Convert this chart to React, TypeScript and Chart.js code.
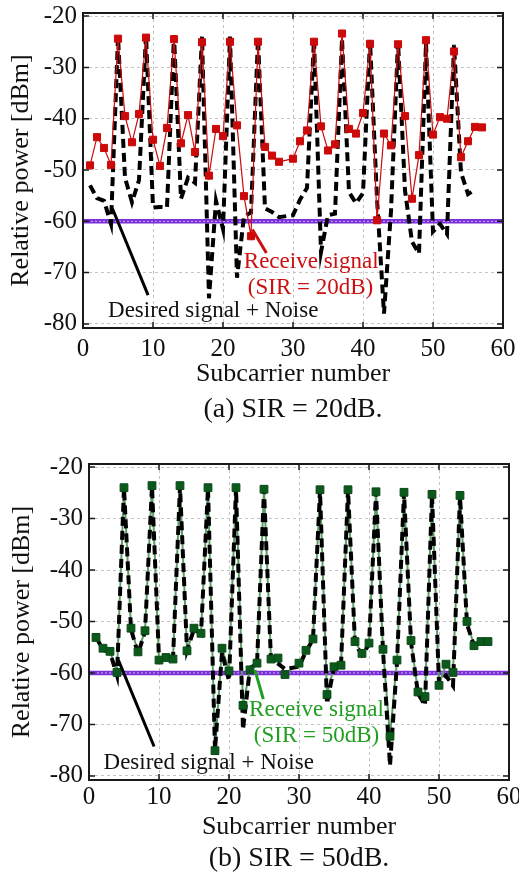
import React, { useEffect, useRef } from "react";
import { Chart, registerables } from "chart.js";

Chart.register(...registerables);

// ---------------- data ----------------
const subcarriers = [
  1, 2, 3, 4, 5, 6, 7, 8, 9, 10, 11, 12, 13, 14, 15, 16, 17, 18, 19, 20, 21, 22, 23, 24, 25, 26, 27, 28,
  30, 31, 32, 33, 34, 35, 36, 37, 38, 39, 40, 41, 42, 43, 44, 45, 46, 47, 48, 49, 50, 51, 52, 53, 54, 55, 56, 57,
];

// Desired signal + Noise (black dashed), subcarriers 1..56 (no 29)
const desiredSignalNoise = [
  -53.0, -55.5, -56.0, -60.5, -24.0, -51.5, -56.3, -52.0, -23.7, -57.3, -57.2, -57.3, -23.7, -55.6,
  -51.5, -52.5, -24.0, -75.0, -56.0, -61.5, -24.0, -71.0, -59.0, -58.3, -24.4, -57.5, -58.2, -59.2,
  -58.8, -55.8, -53.5, -24.5, -66.0, -58.8, -58.5, -24.4, -54.3, -56.5, -54.5, -24.8, -55.6, -78.0,
  -58.0, -24.9, -54.0, -64.0, -66.3, -25.3, -62.0, -60.5, -62.5, -25.6, -50.5, -54.7, -53.8,
];

// Receive signal, SIR = 20 dB
const receiveSIR20 = [
  -49.1, -43.6, -45.7, -49.0, -24.4, -39.5, -44.6, -39.1, -24.2, -44.1, -49.2, -41.8, -24.5, -44.8,
  -39.3, -46.5, -25.1, -51.1, -42.0, -43.4, -25.0, -41.3, -55.1, -62.9, -25.0, -45.5, -47.2, -48.4,
  -47.8, -44.4, -42.3, -25.0, -41.5, -46.2, -45.0, -23.4, -42.0, -42.9, -38.9, -25.4, -59.8, -42.9,
  -45.2, -25.5, -39.5, -55.6, -47.1, -24.7, -43.1, -39.7, -40.0, -26.9, -47.5, -44.4, -41.6, -41.7,
];

// Receive signal, SIR = 50 dB
const receiveSIR50 = [
  -53.1, -55.2, -55.8, -59.9, -24.0, -51.3, -55.9, -51.8, -23.6, -57.5, -57.0, -57.3, -23.6, -55.7,
  -51.3, -52.3, -24.0, -75.1, -55.2, -59.6, -24.0, -66.3, -59.4, -58.1, -24.3, -57.3, -57.1, -60.3,
  -58.1, -55.6, -53.4, -24.4, -64.2, -58.8, -58.5, -24.4, -53.9, -56.2, -54.2, -24.8, -55.4, -72.3,
  -57.5, -24.9, -53.7, -63.7, -64.6, -25.3, -62.4, -58.3, -59.9, -25.5, -50.0, -54.7, -53.9, -53.9,
];

const noiseFloorX = [0, 60];
const noiseFloorY = [-60, -60];

const xTicks = [0, 10, 20, 30, 40, 50, 60];
const yTicks = [-20, -30, -40, -50, -60, -70, -80];

const FONT = "'Liberation Serif', 'Times New Roman', serif";

type Pt = [number, number];
type Panel = {
  receive: number[];
  sirText: string;
  caption: string;
  color: string;
  textColor: string;
  lineColor: string;
  green: boolean;
  height: number;
  top: number;
  padTop: number;
  padRight: number;
  yAxisWidth: number;
  xAxisHeight: number;
  xTickPad: number;
  xTitlePad: number;
  yTitlePad: number;
  captionY: number;
  arrow: [Pt, Pt];
  recvText: [Pt, Pt];
  desiredText: Pt;
  desiredArrow: [Pt, Pt];
};

const panels: Panel[] = [
  {
    receive: receiveSIR20,
    sirText: "(SIR = 20dB)",
    caption: "(a) SIR = 20dB.",
    color: "#cc0a0a",
    textColor: "#cc1010",
    lineColor: "#cc0a0a",
    green: false,
    height: 430,
    top: 0,
    padTop: 13,
    padRight: 16,
    yAxisWidth: 83,
    xAxisHeight: 102,
    xTickPad: 9,
    xTitlePad: 40,
    yTitlePad: 6,
    captionY: 410,
    arrow: [[24.2, -61.6], [26.2, -66.2]],
    recvText: [[32.6, -67.9], [32.5, -72.9]],
    desiredText: [18.6, -77.4],
    desiredArrow: [[4.2, -57.5], [9.3, -74.4]],
  },
  {
    receive: receiveSIR50,
    sirText: "(SIR = 50dB)",
    caption: "(b) SIR = 50dB.",
    color: "#0b5a1c",
    textColor: "#1f9e1f",
    lineColor: "#5d9d68",
    green: true,
    height: 443,
    top: 430,
    padTop: 34,
    padRight: 10,
    yAxisWidth: 89,
    xAxisHeight: 93,
    xTickPad: 5,
    xTitlePad: 30,
    yTitlePad: 7,
    captionY: 429,
    arrow: [[23.7, -59.4], [24.9, -65.1]],
    recvText: [[32.5, -67.1], [32.5, -72.2]],
    desiredText: [17.1, -77.5],
    desiredArrow: [[4.2, -57.5], [9.3, -74.3]],
  },
];

function pts(xs: number[], ys: number[]) {
  return ys.map((y, i) => ({ x: xs[i], y }));
}

function makeChart(canvas: HTMLCanvasElement, p: Panel) {
  const desired = pts(subcarriers, desiredSignalNoise);
  const recv = pts(subcarriers, p.receive);
  const noise = pts(noiseFloorX, noiseFloorY);

  const blackDashed = {
    data: desired,
    borderColor: "#000000",
    borderWidth: 4,
    borderDash: [9, 5],
    pointRadius: 0,
    tension: 0,
    fill: false,
  };
  const noiseThick = {
    data: noise,
    borderColor: "#7a2fd6",
    borderWidth: 4.5,
    pointRadius: 0,
  };
  const noiseCenter = {
    data: noise,
    borderColor: "#cdb3f4",
    borderWidth: 1,
    borderDash: [2, 2],
    pointRadius: 0,
  };

  const datasets: any[] = p.green
    ? [
        {
          data: recv,
          showLine: false,
          pointStyle: "rect",
          pointRadius: 5.5,
          pointBackgroundColor: p.color,
          pointBorderColor: "#0a4a16",
          pointBorderWidth: 1,
        },
        blackDashed,
        {
          data: recv,
          borderColor: p.lineColor,
          borderWidth: 2,
          pointRadius: 0,
        },
        noiseCenter,
        noiseThick,
      ]
    : [
        {
          data: recv,
          borderColor: p.lineColor,
          borderWidth: 1.2,
          pointStyle: "rect",
          pointRadius: 5,
          pointBackgroundColor: p.color,
          pointBorderColor: p.color,
          pointBorderWidth: 1,
        },
        blackDashed,
        noiseCenter,
        noiseThick,
      ];

  const decor = {
    id: "decor",
    afterDatasetsDraw(chart: any) {
      const { ctx, chartArea: a, scales } = chart;
      const x = scales.x;
      const y = scales.y;
      const px = (v: number) => x.getPixelForValue(v);
      const py = (v: number) => y.getPixelForValue(v);
      ctx.save();
      const seg = (s: [Pt, Pt], color: string, w: number) => {
        ctx.beginPath();
        ctx.moveTo(px(s[0][0]), py(s[0][1]));
        ctx.lineTo(px(s[1][0]), py(s[1][1]));
        ctx.strokeStyle = color;
        ctx.lineWidth = w;
        ctx.setLineDash([]);
        ctx.stroke();
      };
      seg(p.desiredArrow, "#000000", 3);
      seg(p.arrow, p.green ? "#1f9e1f" : "#cc1010", 3);

      // frame
      ctx.strokeStyle = "#1a1a1a";
      ctx.lineWidth = 2;
      ctx.strokeRect(a.left, a.top, a.right - a.left, a.bottom - a.top);
      // inner ticks
      ctx.lineWidth = 1.5;
      ctx.beginPath();
      for (const v of xTicks) {
        const X = px(v);
        ctx.moveTo(X, a.top);
        ctx.lineTo(X, a.top + 6);
        ctx.moveTo(X, a.bottom);
        ctx.lineTo(X, a.bottom - 6);
      }
      for (const v of yTicks) {
        const Y = py(v);
        ctx.moveTo(a.left, Y);
        ctx.lineTo(a.left + 6, Y);
        ctx.moveTo(a.right, Y);
        ctx.lineTo(a.right - 6, Y);
      }
      ctx.stroke();

      // texts
      ctx.textAlign = "center";
      ctx.textBaseline = "middle";
      ctx.font = `23px ${FONT}`;
      ctx.fillStyle = p.textColor;
      ctx.fillText("Receive signal", px(p.recvText[0][0]), py(p.recvText[0][1]));
      ctx.fillText(p.sirText, px(p.recvText[1][0]), py(p.recvText[1][1]));
      ctx.fillStyle = "#111111";
      ctx.fillText("Desired signal + Noise", px(p.desiredText[0]), py(p.desiredText[1]));

      // caption
      ctx.font = `28px ${FONT}`;
      ctx.fillStyle = "#111111";
      ctx.fillText(p.caption, (a.left + a.right) / 2, p.captionY);
      ctx.restore();
    },
  };

  return new Chart(canvas, {
    type: "line",
    data: { datasets },
    plugins: [decor],
    options: {
      responsive: false,
      animation: false,
      devicePixelRatio: 1,
      layout: { padding: { left: 0, top: p.padTop, right: p.padRight, bottom: 0 } },
      plugins: { legend: { display: false }, tooltip: { enabled: false } },
      scales: {
        x: {
          type: "linear",
          min: 0,
          max: 60,
          afterBuildTicks: (s: any) => {
            s.ticks = xTicks.map((v) => ({ value: v }));
          },
          afterFit: (s: any) => {
            s.height = p.xAxisHeight;
            s.paddingLeft = 0;
            s.paddingRight = 0;
          },
          ticks: {
            autoSkip: false,
            maxRotation: 0,
            padding: p.xTickPad,
            color: "#111111",
            font: { family: FONT, size: 25, lineHeight: 1.0 },
          },
          title: {
            display: true,
            text: "Subcarrier number",
            color: "#111111",
            font: { family: FONT, size: 26 },
            padding: { top: 0, bottom: p.xTitlePad },
          },
          grid: { color: "#c4c4c4", lineWidth: 1, drawTicks: false },
          border: { display: false, dash: [3, 3] },
        },
        y: {
          type: "linear",
          min: -80.8,
          max: -19.4,
          afterBuildTicks: (s: any) => {
            s.ticks = yTicks.map((v) => ({ value: v }));
          },
          afterFit: (s: any) => {
            s.width = p.yAxisWidth;
            s.paddingTop = 0;
            s.paddingBottom = 0;
          },
          ticks: {
            autoSkip: false,
            padding: 6,
            color: "#111111",
            font: { family: FONT, size: 25, lineHeight: 1.0 },
          },
          title: {
            display: true,
            text: "Relative power [dBm]",
            color: "#111111",
            font: { family: FONT, size: 26 },
            padding: { top: p.yTitlePad, bottom: 0 },
          },
          grid: { color: "#c4c4c4", lineWidth: 1, drawTicks: false },
          border: { display: false, dash: [3, 3] },
        },
      },
    } as any,
  });
}

function PanelChart({ p }: { p: Panel }) {
  const ref = useRef<HTMLCanvasElement | null>(null);
  useEffect(() => {
    if (!ref.current) return;
    const c = makeChart(ref.current, p);
    return () => c.destroy();
  }, [p]);
  return (
    <canvas
      ref={ref}
      width={519}
      height={p.height}
      style={{ position: "absolute", left: 0, top: p.top, width: 519, height: p.height, display: "block" }}
    />
  );
}

export default function App() {
  return (
    <div style={{ position: "absolute", left: 0, top: 0, width: 519, height: 873, background: "#ffffff" }}>
      {panels.map((p, i) => (
        <PanelChart key={i} p={p} />
      ))}
    </div>
  );
}
